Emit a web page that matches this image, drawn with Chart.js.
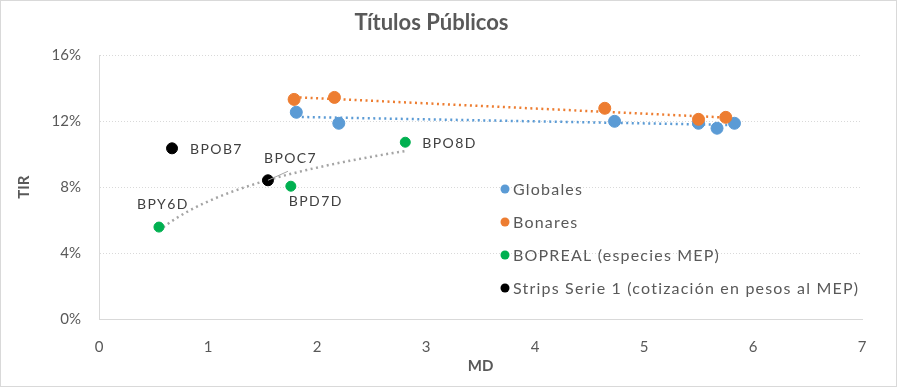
<!DOCTYPE html>
<html>
<head>
<meta charset="utf-8">
<script src="https://cdn.jsdelivr.net/npm/chart.js@4.4.1/dist/chart.umd.min.js"></script>
<style>
  html, body { margin: 0; padding: 0; background: #fff; }
  #wrap { position: relative; width: 895px; height: 385px; border: 1px solid #d9d9d9; }
</style>
</head>
<body>
<div id="wrap"><canvas id="chart"></canvas></div>
<script>
// MD (x) and TIR in % (y) per series
const globalesMD = [1.81, 2.20, 4.73, 5.50, 5.67, 5.83];
const globalesTIR = [12.55, 11.88, 12.00, 11.88, 11.58, 11.88];

const bonaresMD = [1.79, 2.16, 4.64, 5.50, 5.75];
const bonaresTIR = [13.33, 13.45, 12.79, 12.12, 12.24];

const bopMD = [0.55, 1.76, 2.81];
const bopTIR = [5.58, 8.06, 10.73];
const bopNames = ['BPY6D', 'BPD7D', 'BPO8D'];

const stripsMD = [0.67, 1.55];
const stripsTIR = [10.36, 8.42];
const stripsNames = ['BPOB7', 'BPOC7'];

const seriesNames = ['Globales', 'Bonares', 'BOPREAL (especies MEP)', 'Strips Serie 1 (cotización en pesos al MEP)'];
const seriesColors = ['#5B9BD5', '#ED7D31', '#00B050', '#000000'];

const xTicks = [0, 1, 2, 3, 4, 5, 6, 7];
const yTicks = [0, 4, 8, 12, 16];

const FONT = 'Lato, "Liberation Sans", sans-serif';

function toPoints(xs, ys) {
  return xs.map((x, i) => ({ x: x, y: ys[i] }));
}

// least squares trend lines, like the spreadsheet ones
function linearTrend(xs, ys) {
  const n = xs.length;
  const mx = xs.reduce((a, b) => a + b, 0) / n;
  const my = ys.reduce((a, b) => a + b, 0) / n;
  let sxy = 0, sxx = 0;
  for (let i = 0; i < n; i++) {
    sxy += (xs[i] - mx) * (ys[i] - my);
    sxx += (xs[i] - mx) * (xs[i] - mx);
  }
  const b = sxy / sxx;
  const a = my - b * mx;
  const x0 = Math.min(...xs), x1 = Math.max(...xs);
  return [{ x: x0, y: a + b * x0 }, { x: x1, y: a + b * x1 }];
}

function logTrend(xs, ys) {
  const lx = xs.map(Math.log);
  const n = xs.length;
  const mx = lx.reduce((a, b) => a + b, 0) / n;
  const my = ys.reduce((a, b) => a + b, 0) / n;
  let sxy = 0, sxx = 0;
  for (let i = 0; i < n; i++) {
    sxy += (lx[i] - mx) * (ys[i] - my);
    sxx += (lx[i] - mx) * (lx[i] - mx);
  }
  const b = sxy / sxx;
  const a = my - b * mx;
  const x0 = Math.min(...xs), x1 = Math.max(...xs);
  const pts = [];
  for (let k = 0; k <= 40; k++) {
    const x = x0 + (x1 - x0) * k / 40;
    pts.push({ x: x, y: a + b * Math.log(x) });
  }
  return pts;
}

function trendSet(data, color) {
  return {
    type: 'line',
    data: data,
    borderColor: color,
    borderWidth: 2.5,
    borderDash: [2, 3.5],
    pointRadius: 0,
    fill: false,
    tension: 0,
    order: 10
  };
}

// point labels for BOPREAL and Strips
const labelOffsets = {
  BPY6D: [-22, -23],
  BPD7D: [-2, 15],
  BPO8D: [17, 1],
  BPOB7: [18, 1],
  BPOC7: [-4, -22]
};

const pointLabels = {
  id: 'pointLabels',
  afterDatasetsDraw(chart) {
    const ctx = chart.ctx;
    ctx.save();
    ctx.font = '14px ' + FONT;
    ctx.letterSpacing = '1.4px';
    ctx.fillStyle = '#404040';
    ctx.textBaseline = 'middle';
    ctx.textAlign = 'left';
    const groups = [[2, bopNames], [3, stripsNames]];
    groups.forEach(([di, names]) => {
      const meta = chart.getDatasetMeta(di);
      meta.data.forEach((el, i) => {
        const name = names[i];
        const off = labelOffsets[name];
        ctx.fillText(name, el.x + off[0], el.y + off[1]);
        if (name === 'BPOC7') {
          ctx.strokeStyle = '#a6a6a6';
          ctx.lineWidth = 1;
          ctx.beginPath();
          ctx.moveTo(el.x, el.y);
          ctx.lineTo(el.x + 20, el.y - 9);
          ctx.stroke();
        }
      });
    });
    ctx.restore();
  }
};

const innerLegend = {
  id: 'innerLegend',
  afterDraw(chart) {
    const ctx = chart.ctx;
    ctx.save();
    ctx.font = '16px ' + FONT;
    ctx.letterSpacing = '1.2px';
    ctx.textBaseline = 'middle';
    ctx.textAlign = 'left';
    seriesNames.forEach((name, i) => {
      const y = 188 + i * 33;
      ctx.fillStyle = seriesColors[i];
      ctx.beginPath();
      ctx.arc(504, y, 4.5, 0, Math.PI * 2);
      ctx.fill();
      ctx.fillStyle = '#595959';
      ctx.fillText(name, 512, y + 1);
    });
    ctx.restore();
  }
};

new Chart(document.getElementById('chart'), {
  type: 'scatter',
  data: {
    datasets: [
      { label: seriesNames[0], data: toPoints(globalesMD, globalesTIR), backgroundColor: seriesColors[0], borderColor: seriesColors[0], pointRadius: 6, order: 1 },
      { label: seriesNames[1], data: toPoints(bonaresMD, bonaresTIR), backgroundColor: seriesColors[1], borderColor: seriesColors[1], pointRadius: 6, order: 0 },
      { label: seriesNames[2], data: toPoints(bopMD, bopTIR), backgroundColor: seriesColors[2], borderColor: seriesColors[2], pointRadius: 5, order: 2 },
      { label: seriesNames[3], data: toPoints(stripsMD, stripsTIR), backgroundColor: seriesColors[3], borderColor: seriesColors[3], pointRadius: 5.5, order: 3 },
      trendSet(linearTrend(globalesMD, globalesTIR), seriesColors[0]),
      trendSet(linearTrend(bonaresMD, bonaresTIR), seriesColors[1]),
      trendSet(logTrend(bopMD, bopTIR), '#A5A5A5')
    ]
  },
  options: {
    responsive: true,
    maintainAspectRatio: false,
    animation: false,
    layout: { padding: { left: 0, right: 34, top: 0, bottom: 7 } },
    scales: {
      x: {
        type: 'linear',
        min: 0,
        max: 7,
        afterBuildTicks: (s) => { s.ticks = xTicks.map(v => ({ value: v })); },
        afterFit: (s) => { s.height = 60; },
        grid: { drawOnChartArea: false, drawTicks: false },
        border: { display: true, color: '#d9d9d9', width: 1 },
        ticks: { color: '#595959', font: { family: FONT, size: 15 }, padding: 19 },
        title: { display: true, text: 'MD', color: '#595959', font: { family: FONT, size: 15, weight: 'bold' }, padding: { top: 0 } }
      },
      y: {
        min: 0,
        max: 16,
        afterBuildTicks: (s) => { s.ticks = yTicks.map(v => ({ value: v })); },
        afterFit: (s) => { s.width = 98; },
        grid: { color: '#d9d9d9', lineWidth: 1, drawTicks: false },
        border: { display: true, color: '#d9d9d9', width: 1, dash: [1, 2] },
        ticks: { color: '#595959', font: { family: FONT, size: 15 }, padding: 18, callback: v => v + '%' },
        title: { display: true, text: 'TIR', color: '#595959', font: { family: FONT, size: 15, weight: 'bold' }, padding: { top: 14, bottom: 0 } }
      }
    },
    plugins: {
      legend: { display: false },
      tooltip: { enabled: false },
      title: {
        display: true,
        text: 'Títulos Públicos',
        color: '#595959',
        font: { family: FONT, size: 22, weight: 'bold' },
        padding: { top: 9, bottom: 19 }
      }
    }
  },
  plugins: [pointLabels, innerLegend]
});
</script>
</body>
</html>
